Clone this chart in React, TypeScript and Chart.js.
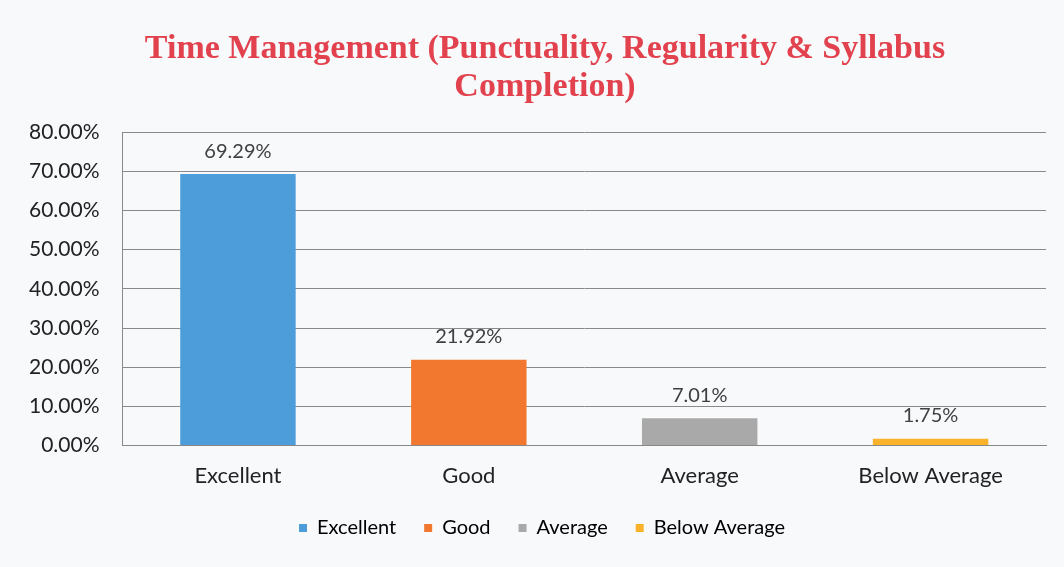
import React, { useEffect, useRef } from "react";
import { Chart, registerables } from "chart.js";

Chart.register(...registerables);

const categories = ["Excellent", "Good", "Average", "Below Average"];
const values = [69.29, 21.92, 7.01, 1.75];
const barColors = ["#4E9DDB", "#F2782F", "#A9A9A9", "#F9B22A"];
const titleLines = ["Time Management (Punctuality, Regularity & Syllabus", "Completion)"];
const yTickMax = 80;
const yTickStep = 10;

const valueLabels = {
  id: "valueLabels",
  afterDatasetsDraw(chart: any) {
    const ctx = chart.ctx;
    const meta = chart.getDatasetMeta(0);
    ctx.save();
    ctx.font = "20px Lato";
    ctx.fillStyle = "#404040";
    ctx.textAlign = "center";
    ctx.textBaseline = "bottom";
    meta.data.forEach((el: any, i: number) => {
      const v = chart.data.datasets[0].data[i];
      ctx.fillText(v.toFixed(2) + "%", el.x, el.y - 13);
    });
    ctx.restore();
  },
};

const shiftBoxes = {
  id: "shiftBoxes",
  afterLayout(chart: any) {
    const t = chart.titleBlock;
    if (t) {
      t.left += 19;
      t.right += 19;
    }
    const l = chart.legend;
    if (l) {
      l.left += 16;
      l.right += 16;
      l.top -= 8;
      l.bottom -= 8;
    }
  },
};

export default function App() {
  const ref = useRef<HTMLCanvasElement>(null);
  useEffect(() => {
    const chart = new Chart(ref.current!, {
      type: "bar",
      data: {
        labels: categories,
        datasets: [
          {
            data: values,
            backgroundColor: barColors,
            categoryPercentage: 1,
            barPercentage: 0.5,
          },
        ],
      },
      plugins: [valueLabels, shiftBoxes],
      options: {
        responsive: false,
        animation: false,
        layout: { padding: { left: 6, right: 18, top: 24, bottom: 11 } },
        plugins: {
          title: {
            display: true,
            text: titleLines,
            color: "#E2424E",
            font: { family: "Liberation Serif", size: 34, weight: "bold", lineHeight: 1.12 },
            padding: { top: 6, bottom: 26 },
          },
          legend: {
            position: "bottom",
            labels: {
              boxWidth: 8,
              boxHeight: 8,
              color: "#404040",
              font: { family: "Lato", size: 20 },
              padding: 28,
              generateLabels: () =>
                categories.map((c, i) => ({
                  text: c,
                  fillStyle: barColors[i],
                  strokeStyle: barColors[i],
                  lineWidth: 0,
                  hidden: false,
                  index: i,
                })),
            },
            onClick: () => {},
          },
          tooltip: { enabled: false },
        },
        scales: {
          x: {
            grid: { display: false, drawTicks: true },
            border: { color: "#888" },
            ticks: { color: "#222", font: { family: "Lato", size: 22 }, padding: 9 },
          },
          y: {
            min: 0,
            max: yTickMax,
            ticks: {
              stepSize: yTickStep,
              color: "#222",
              font: { family: "Lato", size: 21 },
              padding: 23,
              callback: (v: any) => Number(v).toFixed(2) + "%",
            },
            grid: { color: "#8a8a8a", drawTicks: false },
            border: { color: "#888" },
          },
        },
      },
    });
    return () => chart.destroy();
  }, []);
  return (
    <div style={{ position: "absolute", left: 0, top: 0, width: 1064, height: 567, background: "#F7F9FB" }}>
      <canvas ref={ref} width={1064} height={567} />
    </div>
  );
}
